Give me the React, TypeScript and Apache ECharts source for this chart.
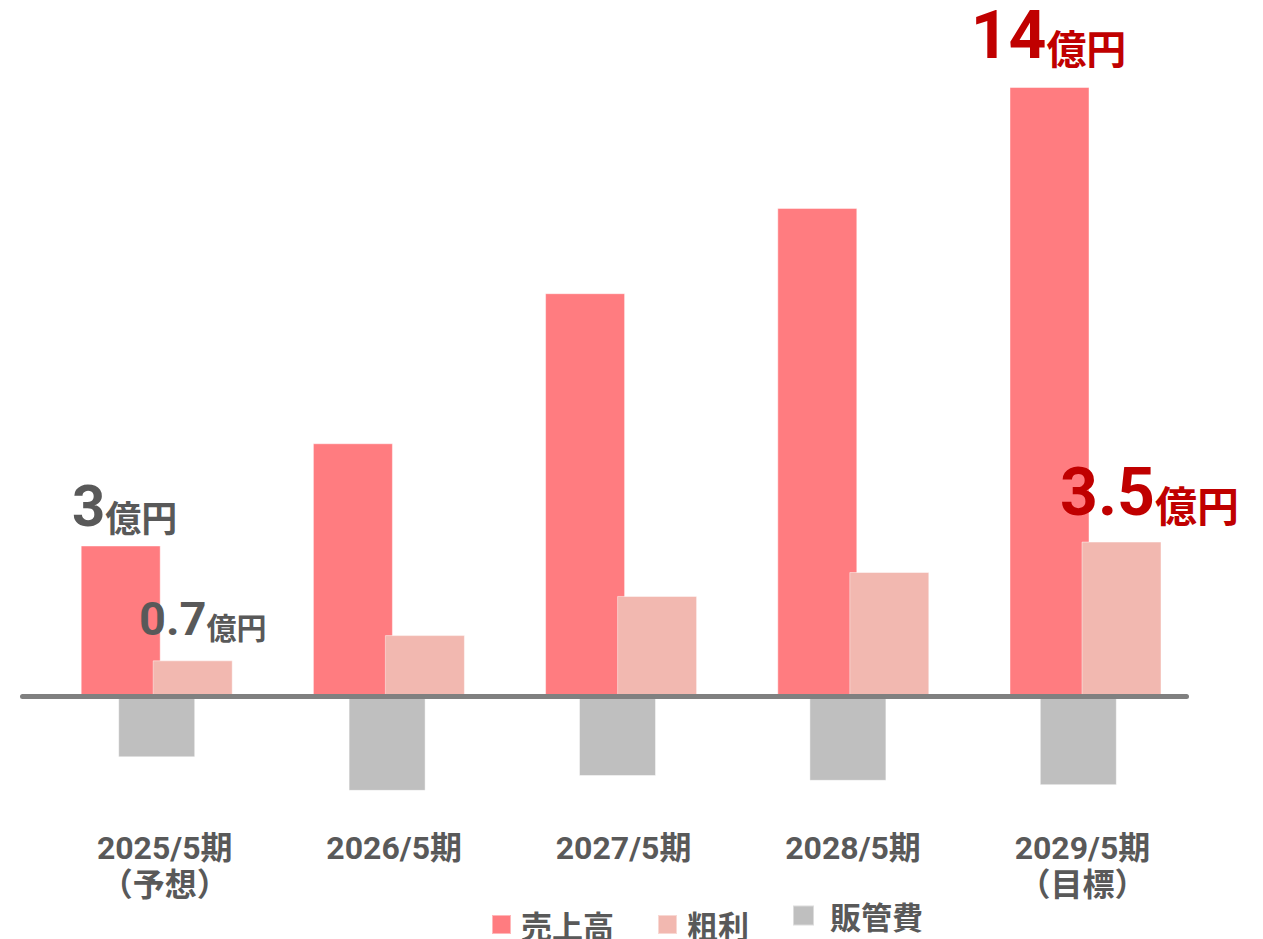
import React, { useEffect, useRef } from 'react';
import * as echarts from 'echarts';

const categories = ['2025/5期\n（予想）', '2026/5期', '2027/5期', '2028/5期', '2029/5期\n（目標）'];
const salesValues = [3.46, 5.81, 9.26, 11.22, 14.0];
const grossValues = [0.82, 1.4, 2.3, 2.85, 3.55];
const sgaValues = [-1.41, -2.18, -1.84, -1.95, -2.05];
const salesLabels = ['3', '', '', '', '14'];
const grossLabels = ['0.7', '', '', '', '3.5'];
const labelUnit = '億円';
const seriesNames = ['売上高', '粗利', '販管費'];

const GRAY = '#595959';
const RED = '#C00000';
const NUM_FONT = "Roboto, 'Noto Sans CJK JP', sans-serif";
const JP_FONT = "'Noto Sans CJK JP', sans-serif";

type LabelStyle = { numSize: number; unitSize: number; color: string; dx: number; dist: number };

const salesLabelStyles: LabelStyle[] = [
  { numSize: 58, unitSize: 36, color: GRAY, dx: 4, dist: 10 },
  null as any, null as any, null as any,
  { numSize: 66, unitSize: 40, color: RED, dx: -1, dist: 19 },
];
const grossLabelStyles: LabelStyle[] = [
  { numSize: 47, unitSize: 30, color: GRAY, dx: 10, dist: 18 },
  null as any, null as any, null as any,
  { numSize: 66, unitSize: 42, color: RED, dx: 28, dist: 16 },
];

function buildData(values: number[], labels: string[], styles: LabelStyle[]) {
  return values.map((v, i) => {
    if (!labels[i]) return v;
    const s = styles[i];
    return {
      value: v,
      label: {
        show: true,
        position: 'top',
        distance: s.dist,
        offset: [s.dx, 0],
        formatter: `{n|${labels[i]}}{u|${labelUnit}}`,
        rich: {
          n: {
            fontSize: s.numSize,
            fontWeight: 'bold',
            fontFamily: NUM_FONT,
            color: s.color,
            verticalAlign: 'bottom',
            lineHeight: s.numSize,
          },
          u: {
            fontSize: s.unitSize,
            fontWeight: 'bold',
            fontFamily: JP_FONT,
            color: s.color,
            verticalAlign: 'bottom',
            lineHeight: s.unitSize,
            padding: [0, 0, Math.round(s.numSize * 0.02), 0],
          },
        },
      },
    };
  });
}

export default function App() {
  const ref = useRef<HTMLDivElement>(null);

  useEffect(() => {
    document.body.style.margin = '0';
    if (!ref.current) return;
    const chart = echarts.init(ref.current, undefined, { renderer: 'svg' });
    const gridTop = 87;
    const gridBottom = 112.5;
    const legendText = {
      fontSize: 31,
      fontWeight: 'bold',
      color: GRAY,
      fontFamily: JP_FONT,
    };
    const hiddenY = (gridIndex: number) => ({
      type: 'value',
      gridIndex,
      min: -3,
      max: 14,
      show: false,
      splitLine: { show: false },
    });
    chart.setOption({
      animation: false,
      backgroundColor: '#ffffff',
      grid: [
        { left: 40.6, right: 61.4, top: gridTop, bottom: gridBottom, containLabel: false },
        { left: 22.5, right: 76.5, top: gridTop, bottom: gridBottom, containLabel: false },
        { left: 41.5, right: 69.5, top: gridTop, bottom: gridBottom, containLabel: false },
        { left: 50, right: 65.8, top: gridTop, bottom: gridBottom, containLabel: false },
      ],
      legend: [
        {
          data: [seriesNames[0], seriesNames[1]],
          left: 491,
          top: 909,
          padding: 0,
          icon: 'rect',
          itemWidth: 19,
          itemHeight: 19,
          itemGap: 43,
          textStyle: { ...legendText, padding: [0, 0, 0, 5] },
        },
        {
          data: [seriesNames[2]],
          left: 792,
          top: 900,
          padding: 0,
          icon: 'rect',
          itemWidth: 21,
          itemHeight: 20,
          textStyle: { ...legendText, padding: [0, 0, 0, 11] },
        },
      ],
      xAxis: [
        {
          type: 'category',
          gridIndex: 0,
          data: categories,
          axisLine: { show: false, onZero: false },
          axisTick: { show: false },
          axisLabel: { show: false },
        },
        {
          type: 'category',
          gridIndex: 2,
          data: categories,
          axisLine: { show: false, onZero: false },
          axisTick: { show: false },
          axisLabel: { show: false },
        },
        {
          type: 'category',
          gridIndex: 1,
          data: [''],
          z: 10,
          axisLine: {
            show: true,
            onZero: true,
            lineStyle: { color: '#808080', width: 5, cap: 'round' },
          },
          axisTick: { show: false },
          axisLabel: { show: false },
        },
        {
          type: 'category',
          gridIndex: 3,
          data: categories,
          axisLine: { show: false, onZero: false },
          axisTick: { show: false },
          axisLabel: {
            margin: 3,
            fontSize: 32,
            fontWeight: 'bold',
            color: GRAY,
            fontFamily: NUM_FONT,
            lineHeight: 37,
          },
        },
      ],
      yAxis: [hiddenY(0), hiddenY(1), hiddenY(2), hiddenY(3)],
      series: [
        {
          name: seriesNames[0],
          type: 'bar',
          xAxisIndex: 0,
          yAxisIndex: 0,
          barWidth: 80,
          barGap: '-10%',
          itemStyle: { color: '#FF7C80', borderColor: 'rgba(255,255,255,0.45)', borderWidth: 1 },
          data: buildData(salesValues, salesLabels, salesLabelStyles),
        },
        {
          name: seriesNames[1],
          type: 'bar',
          xAxisIndex: 0,
          yAxisIndex: 0,
          barWidth: 80,
          barGap: '-10%',
          itemStyle: { color: '#F2B8B0', borderColor: 'rgba(255,255,255,0.45)', borderWidth: 1 },
          data: buildData(grossValues, grossLabels, grossLabelStyles),
        },
        {
          name: seriesNames[2],
          type: 'bar',
          xAxisIndex: 1,
          yAxisIndex: 2,
          barWidth: 77,
          itemStyle: { color: '#BFBFBF', borderColor: 'rgba(255,255,255,0.45)', borderWidth: 1 },
          data: sgaValues,
        },
      ],
    });
    return () => chart.dispose();
  }, []);

  return <div ref={ref} style={{ width: 1263, height: 939 }} />;
}
